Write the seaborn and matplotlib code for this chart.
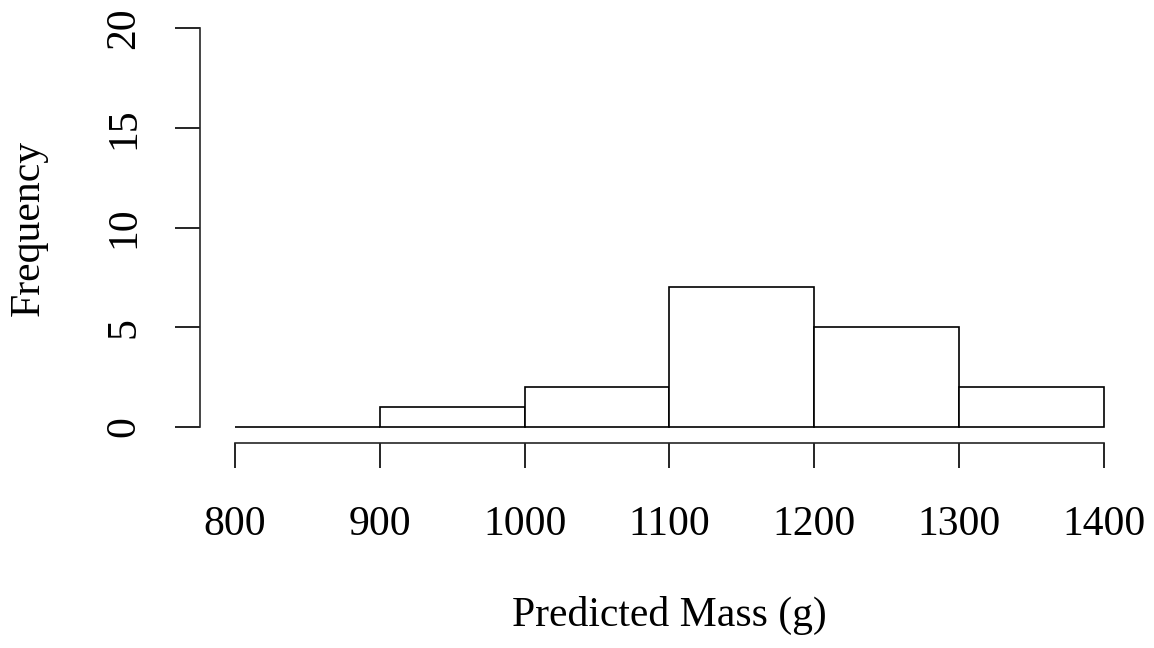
import matplotlib
matplotlib.use('Agg')
import numpy as np
import pandas as pd
import matplotlib.pyplot as plt
import seaborn as sns

# histogram bins
bin_edges = [800, 900, 1000, 1100, 1200, 1300, 1400]
counts = [0, 1, 2, 7, 5, 2]
bin_mids = [(a + b) / 2 for a, b in zip(bin_edges[:-1], bin_edges[1:])]
x_ticks = [800, 900, 1000, 1100, 1200, 1300, 1400]
y_ticks = [0, 5, 10, 15, 20]

sns.set_style('ticks')
plt.rcParams['font.family'] = ['Liberation Serif', 'DejaVu Serif']
plt.rcParams['text.color'] = 'black'
plt.rcParams['axes.labelcolor'] = 'black'

df = pd.DataFrame({'mass': bin_mids, 'n': counts})

fig = plt.figure(figsize=(11.54, 6.48), dpi=100)
ax = fig.add_axes([200 / 1154, 1 - 443 / 648, 939 / 1154, 431 / 648])

sns.histplot(data=df, x='mass', weights='n', bins=bin_edges, ax=ax,
             color='white', edgecolor='black', linewidth=1.2, alpha=1)

ax.set_xlim(776, 1424)
ax.set_ylim(-0.8, 20.8)
ax.set_xticks(x_ticks)
ax.set_yticks(y_ticks)
ax.set_xticklabels([str(v) for v in x_ticks])
ax.set_yticklabels([str(v) for v in y_ticks], rotation=90, va='center')

for s in ['top', 'right']:
    ax.spines[s].set_visible(False)
ax.spines['left'].set_bounds(0, 20)
ax.spines['bottom'].set_bounds(800, 1400)
ax.spines['left'].set_linewidth(1.2)
ax.spines['bottom'].set_linewidth(1.2)

ax.tick_params(axis='both', length=18, width=1.2, direction='out', labelsize=30, colors='black')
ax.tick_params(axis='x', pad=27)
ax.tick_params(axis='y', pad=23)

ax.set_xlabel('Predicted Mass (g)', fontsize=30, va='center', color='black')
ax.set_ylabel('Frequency', fontsize=30, va='center', color='black')
ax.xaxis.set_label_coords(0.5, -0.40)
ax.yaxis.set_label_coords(-0.183, 0.5)

fig.savefig('out.png', dpi=100, facecolor='white')
